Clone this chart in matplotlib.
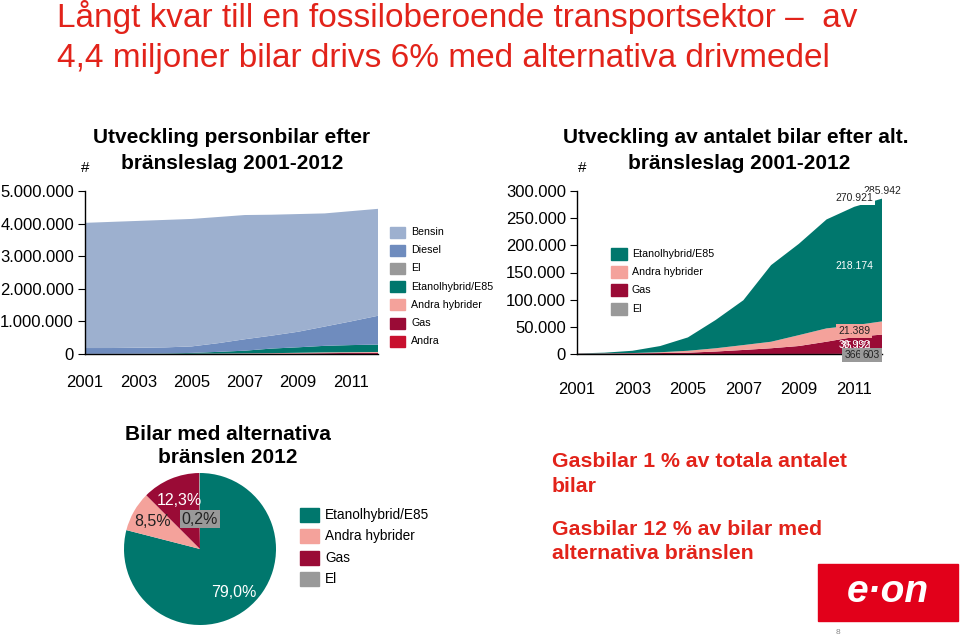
import matplotlib.pyplot as plt
import numpy as np
from matplotlib.patches import Rectangle
from matplotlib.ticker import FuncFormatter

plt.rcParams['font.family'] = ['Liberation Sans', 'DejaVu Sans']

# data
years = np.arange(2001, 2013)

# left chart: passenger cars per fuel (stacked from bottom)
left_names = ['Bensin', 'Diesel', 'El', 'Etanolhybrid/E85', 'Andra hybrider', 'Gas', 'Andra']
bensin = np.array([3.84, 3.87, 3.89, 3.91, 3.91, 3.87, 3.81, 3.71, 3.61, 3.47, 3.38, 3.28]) * 1e6
diesel = np.array([0.179, 0.178, 0.184, 0.185, 0.199, 0.267, 0.351, 0.396, 0.477, 0.592, 0.729, 0.884]) * 1e6
andra = np.array([3, 3, 3, 3, 3, 3, 3, 3, 3, 3, 3, 3]) * 1e3

# right chart: alternative fuels
el = np.array([50, 50, 50, 50, 50, 50, 50, 70, 100, 150, 366, 603])
gas = np.array([500, 800, 1200, 1700, 2400, 4500, 7400, 10500, 14600, 22500, 30992, 35121])
hybrid = np.array([200, 300, 500, 1500, 3500, 6000, 9000, 12000, 20000, 24500, 21389, 24305])
etanol = np.array([300, 1300, 4200, 11400, 24600, 52000, 82500, 141000, 168000, 200500, 218174, 225913])
right_names = ['Etanolhybrid/E85', 'Andra hybrider', 'Gas', 'El']

# pie 2012
pie_names = ['Etanolhybrid/E85', 'Andra hybrider', 'Gas', 'El']
pie_vals = [79.0, 8.5, 12.3, 0.2]

c_bensin = '#9DB0CF'
c_diesel = '#6F8CBE'
c_el = '#999999'
c_etanol = '#00776D'
c_hybrid = '#F4A29B'
c_gas = '#9A0B36'
c_andra = '#C8102E'
red = '#E2231A'

W, H = 960, 638
fig = plt.figure(figsize=(W / 100, H / 100), dpi=100)


def ax_px(l, t, r, b):
    return fig.add_axes([l / W, 1 - b / H, (r - l) / W, (b - t) / H])


def dots(v, pos=None):
    return f"{int(round(v)):,}".replace(',', '.')


# left area chart
ax1 = ax_px(85, 191, 378, 354)
ax1.stackplot(years, andra, gas, hybrid, etanol, el, diesel, bensin,
              colors=[c_andra, c_gas, c_hybrid, c_etanol, c_el, c_diesel, c_bensin], lw=0)
ax1.set_xlim(2001, 2012)
ax1.set_ylim(0, 5e6)
ax1.set_yticks(np.arange(0, 5e6 + 1, 1e6))
ax1.yaxis.set_major_formatter(FuncFormatter(dots))
ax1.set_xticks(range(2001, 2012, 2))

# right area chart
ax2 = ax_px(577, 191, 882, 354)
ax2.stackplot(years, el, gas, hybrid, etanol,
              colors=[c_el, c_gas, c_hybrid, c_etanol], lw=0)
ax2.set_xlim(2001, 2012)
ax2.set_ylim(0, 300000)
ax2.set_yticks(np.arange(0, 300001, 50000))
ax2.yaxis.set_major_formatter(FuncFormatter(dots))
ax2.set_xticks(range(2001, 2012, 2))

for ax, pad in [(ax1, 15), (ax2, 20)]:
    for s in ['top', 'right']:
        ax.spines[s].set_visible(False)
    ax.spines['left'].set_linewidth(1)
    ax.spines['bottom'].set_linewidth(1)
    ax.tick_params(axis='y', direction='out', length=5, labelsize=12, pad=3)
    ax.tick_params(axis='x', length=0, labelsize=12, pad=pad)
    ax.set_facecolor('none')

# value labels on the right chart
tot = el + gas + hybrid + etanol
i11, i12 = 10, 11
fs = 7.5
ax2.annotate(dots(tot[i12]), (2012, tot[i12]), xytext=(0, 5.5), textcoords='offset points',
             ha='center', va='center', fontsize=fs, color='#222222')
ax2.annotate(dots(tot[i11]), (2011, tot[i11]), xytext=(0, 6), textcoords='offset points',
             ha='center', va='center', fontsize=fs, color='#222222',
             bbox=dict(boxstyle='square,pad=0.15', fc='white', ec='none'))
ax2.text(2011, el[i11] + gas[i11] + hybrid[i11] + etanol[i11] / 2, dots(etanol[i11]),
         ha='center', va='center', fontsize=fs, color='white')
ax2.text(2011, el[i11] + gas[i11] + hybrid[i11] / 2, dots(hybrid[i11]),
         ha='center', va='center', fontsize=fs, color='#222222',
         bbox=dict(boxstyle='square,pad=0.2', fc=c_hybrid, ec='none'))
ax2.text(2011, el[i11] + gas[i11] / 2, dots(gas[i11]),
         ha='center', va='center', fontsize=fs, color='white')
ax2.annotate(dots(gas[i12]), (2011, el[i12] + gas[i12] / 2 - 4000), xytext=(2, 0),
             textcoords='offset points', ha='center', va='center', fontsize=fs, color='white')
ax2.annotate(str(el[i11]), (2011, 0), xytext=(-1, -1), textcoords='offset points',
             ha='center', va='center', fontsize=fs, color='#222222',
             bbox=dict(boxstyle='square,pad=0.2', fc=c_el, ec='none'))
ax2.annotate(str(el[i12]), (2011, 0), xytext=(12, -1), textcoords='offset points',
             ha='center', va='center', fontsize=fs, color='#222222',
             bbox=dict(boxstyle='square,pad=0.2', fc=c_el, ec='none'))

# pie
axp = ax_px(124, 473, 276, 625)
wedges, _ = axp.pie(pie_vals, colors=[c_etanol, c_hybrid, c_gas, c_el],
                    startangle=90, counterclock=False, radius=1)
axp.set_xlim(-1, 1)
axp.set_ylim(-1, 1)
lab_r = [0.72, 0.72, 0.69, 0.39]
lab_c = ['white', '#222222', 'white', '#222222']
for w, v, r, c in zip(wedges, pie_vals, lab_r, lab_c):
    a = np.deg2rad((w.theta1 + w.theta2) / 2)
    box = dict(boxstyle='square,pad=0.1', fc=c_el, ec='none') if v < 1 else None
    axp.text(r * np.cos(a), r * np.sin(a), f"{v:.1f}%".replace('.', ','),
             ha='center', va='center', fontsize=11.5, color=c, bbox=box)

# overlay for text and legends, pixel coordinates
ov = fig.add_axes([0, 0, 1, 1])
ov.set_xlim(0, W)
ov.set_ylim(H, 0)
ov.axis('off')

ov.text(57, 27, 'Långt kvar till en fossiloberoende transportsektor –  av',
        fontsize=24, color=red, va='baseline')
ov.text(57, 67, '4,4 miljoner bilar drivs 6% med alternativa drivmedel',
        fontsize=24, color=red, va='baseline')

ov.text(232, 143, 'Utveckling personbilar efter', fontsize=15, fontweight='bold',
        ha='center', va='baseline')
ov.text(232, 169, 'bränsleslag 2001-2012', fontsize=15, fontweight='bold',
        ha='center', va='baseline')
ov.text(85, 172, '#', fontsize=11, ha='center', va='baseline')

ov.text(736, 143, 'Utveckling av antalet bilar efter alt.', fontsize=15, fontweight='bold',
        ha='center', va='baseline')
ov.text(739, 169, 'bränsleslag 2001-2012', fontsize=15, fontweight='bold',
        ha='center', va='baseline')
ov.text(582, 172, '#', fontsize=11, ha='center', va='baseline')

ov.text(228, 440, 'Bilar med alternativa', fontsize=15, fontweight='bold',
        ha='center', va='baseline')
ov.text(228, 463, 'bränslen 2012', fontsize=15, fontweight='bold',
        ha='center', va='baseline')

for y, s in [(467, 'Gasbilar 1 % av totala antalet'), (492, 'bilar'),
             (535, 'Gasbilar 12 % av bilar med'), (559, 'alternativa bränslen')]:
    ov.text(552, y, s, fontsize=15.3, fontweight='bold', color=red, va='baseline')

# legends
left_cols = [c_bensin, c_diesel, c_el, c_etanol, c_hybrid, c_gas, c_andra]
for k, (n, c) in enumerate(zip(left_names, left_cols)):
    y = 232 + k * 18.2
    ov.add_patch(Rectangle((390, y - 5.5), 15, 11, color=c))
    ov.text(411, y, n, fontsize=7.7, va='center')

right_cols = [c_etanol, c_hybrid, c_gas, c_el]
for k, (n, c) in enumerate(zip(right_names, right_cols)):
    y = 254 + k * 18.2
    ov.add_patch(Rectangle((611, y - 6), 16, 12, color=c))
    ov.text(632, y, n, fontsize=7.7, va='center')

for k, (n, c) in enumerate(zip(pie_names, right_cols)):
    y = 515 + k * 21.3
    ov.add_patch(Rectangle((300, y - 7), 19, 14, color=c))
    ov.text(325, y, n, fontsize=9.8, va='center')

# logo and page number
ov.add_patch(Rectangle((818, 564), 140, 57, color='#E2001A'))
ov.text(888, 592, 'e·on', fontsize=28, fontweight='bold', style='italic',
        color='white', ha='center', va='center')
ov.text(838, 634, '8', fontsize=6, color='#888888', ha='center', va='baseline')

fig.savefig('out.png', dpi=100)
